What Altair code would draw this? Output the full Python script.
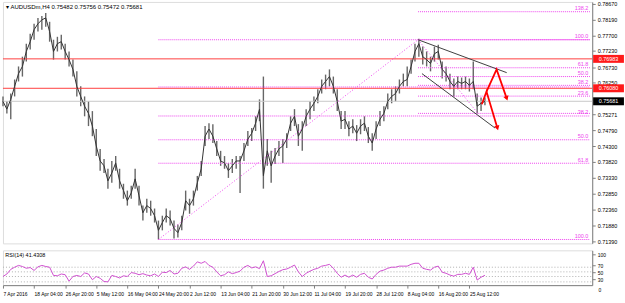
import altair as alt
import pandas as pd

# ---------------- data ----------------
# sampled H4 bars (every 5th bar index from the left edge)
bars = list(range(0, 625, 5))
close = [0.7568,0.7544,0.7574,0.7614,0.7653,0.7675,0.7721,0.7751,0.7788,0.7806,
 0.7818,0.7824,0.7782,0.7721,0.7745,0.7751,0.7721,0.7696,0.7666,0.7614,
 0.7583,0.7553,0.7531,0.7492,0.7431,0.7385,0.7370,0.7324,0.7348,0.7379,
 0.7324,0.7294,0.7263,0.7287,0.7330,0.7278,0.7226,0.7248,0.7239,0.7217,
 0.7172,0.7196,0.7217,0.7208,0.7178,0.7165,0.7196,0.7263,0.7248,0.7269,
 0.7318,0.7361,0.7461,0.7483,0.7461,0.7422,0.7385,0.7379,0.7355,0.7370,
 0.7385,0.7385,0.7416,0.7452,0.7470,0.7501,0.7544,0.7340,0.7416,0.7370,
 0.7400,0.7422,0.7431,0.7452,0.7501,0.7522,0.7461,0.7483,0.7522,0.7544,
 0.7562,0.7583,0.7614,0.7629,0.7644,0.7614,0.7568,0.7507,0.7513,0.7483,
 0.7492,0.7470,0.7492,0.7501,0.7461,0.7440,0.7483,0.7513,0.7531,0.7568,
 0.7583,0.7592,0.7614,0.7629,0.7635,0.7675,0.7721,0.7745,0.7705,0.7696,
 0.7684,0.7714,0.7721,0.7666,0.7653,0.7629,0.7614,0.7629,0.7623,0.7629,
 0.7617,0.7629,0.7553,0.7562,0.7568]
high = [0.7583,0.7568,0.7592,0.7635,0.7675,0.7705,0.7745,0.7775,0.7806,0.7824,
 0.7830,0.7839,0.7812,0.7757,0.7766,0.7772,0.7745,0.7721,0.7696,0.7660,
 0.7614,0.7583,0.7568,0.7538,0.7483,0.7422,0.7391,0.7361,0.7385,0.7400,
 0.7361,0.7315,0.7294,0.7309,0.7361,0.7309,0.7248,0.7269,0.7263,0.7239,
 0.7202,0.7217,0.7239,0.7233,0.7202,0.7190,0.7217,0.7294,0.7269,0.7294,
 0.7339,0.7385,0.7492,0.7501,0.7498,0.7446,0.7416,0.7400,0.7379,0.7391,
 0.7400,0.7400,0.7440,0.7477,0.7486,0.7522,0.7574,0.7644,0.7452,0.7416,
 0.7425,0.7446,0.7452,0.7470,0.7522,0.7544,0.7498,0.7507,0.7544,0.7568,
 0.7583,0.7605,0.7635,0.7650,0.7666,0.7644,0.7605,0.7538,0.7538,0.7507,
 0.7513,0.7495,0.7513,0.7522,0.7489,0.7470,0.7507,0.7538,0.7553,0.7592,
 0.7605,0.7614,0.7635,0.7653,0.7675,0.7696,0.7745,0.7760,0.7736,0.7721,
 0.7705,0.7736,0.7742,0.7690,0.7675,0.7653,0.7638,0.7644,0.7641,0.7644,
 0.7638,0.7690,0.7592,0.7580,0.7580]
low = [0.7553,0.7531,0.7513,0.7583,0.7629,0.7644,0.7690,0.7727,0.7757,0.7782,
 0.7788,0.7797,0.7751,0.7696,0.7721,0.7727,0.7696,0.7675,0.7644,0.7583,
 0.7553,0.7522,0.7492,0.7461,0.7400,0.7355,0.7348,0.7300,0.7318,0.7355,
 0.7300,0.7269,0.7248,0.7269,0.7300,0.7248,0.7202,0.7226,0.7217,0.7196,
 0.7144,0.7172,0.7196,0.7187,0.7147,0.7150,0.7172,0.7233,0.7223,0.7248,
 0.7294,0.7339,0.7431,0.7452,0.7440,0.7400,0.7370,0.7361,0.7333,0.7348,
 0.7361,0.7287,0.7385,0.7431,0.7446,0.7477,0.7507,0.7300,0.7370,0.7318,
 0.7376,0.7400,0.7379,0.7425,0.7477,0.7492,0.7431,0.7416,0.7492,0.7513,
 0.7538,0.7562,0.7592,0.7605,0.7614,0.7592,0.7538,0.7483,0.7483,0.7461,
 0.7470,0.7446,0.7467,0.7477,0.7440,0.7416,0.7452,0.7492,0.7507,0.7544,
 0.7562,0.7568,0.7592,0.7614,0.7614,0.7653,0.7690,0.7705,0.7681,0.7675,
 0.7660,0.7690,0.7696,0.7638,0.7629,0.7605,0.7583,0.7605,0.7605,0.7605,
 0.7598,0.7605,0.7531,0.7538,0.7556]
rsi = [38,45,58,64,69,66,61,63,55,65,
 69,66,64,41,40,45,43,25,38,41,
 38,48,45,29,38,33,24,23,41,38,
 34,40,38,49,47,43,46,42,40,45,
 38,50,49,55,45,47,61,65,58,67,
 79,75,80,69,64,51,40,43,51,46,
 49,53,64,69,62,65,60,82,38,40,
 46,52,57,59,64,70,51,38,47,53,
 58,61,67,69,72,61,47,36,42,36,
 42,36,44,47,36,31,44,53,56,61,
 64,64,67,67,67,72,75,75,61,58,
 56,64,67,50,47,42,39,44,44,47,
 44,64,28,36,41.43]

date_ticks = [0, 40, 80, 120, 160, 200, 240, 280, 320, 360, 400, 440, 480, 520, 560, 600]
date_labels = ["7 Apr 2016", "18 Apr 04:00", "26 Apr 20:00", "5 May 12:00", "16 May 04:00",
               "24 May 20:00", "2 Jun 12:00", "13 Jun 04:00", "21 Jun 20:00", "30 Jun 12:00",
               "11 Jul 04:00", "19 Jul 20:00", "28 Jul 12:00", "8 Aug 04:00", "16 Aug 20:00",
               "25 Aug 12:00"]
price_ticks = [0.7867, 0.7819, 0.7770, 0.7723, 0.7673, 0.7625, 0.75271, 0.7479, 0.7430,
               0.7382, 0.7333, 0.7285, 0.7236, 0.7188, 0.7139]

red_levels = [0.76983, 0.76080]
last_price = [0.75681]

# fib 1 (May low -> Aug high) and fib 2 (Aug high -> late Aug low)
fib1_prices = [0.7757, 0.7612, 0.7523, 0.7450, 0.7378, 0.7144]
fib1_start = 200
fib2_prices = [0.7531, 0.7584, 0.7617, 0.7644, 0.7671, 0.7757, 0.7843]
fib2_start = 534
fib_end = 755
# level captions visible at the right edge
fib_label_names = ["38.2", "50.0", "61.8", "100.0", "23.6", "38.2", "50.0", "61.8", "100.0", "138.2"]
fib_label_prices = [0.7523, 0.7450, 0.7378, 0.7144, 0.7584, 0.7617, 0.7644, 0.7671, 0.7757, 0.7843]

fib_diag_bar = [200, 534, 534, 611]
fib_diag_price = [0.7144, 0.7757, 0.7757, 0.7531]
fib_diag_id = ["a", "a", "b", "b"]

chan_bar = [534, 648, 539, 633]
chan_price = [0.7757, 0.7656, 0.7653, 0.7486]
chan_id = ["u", "u", "l", "l"]

arrow_bar = [616, 622, 636, 622, 635, 648]
arrow_price = [0.7559, 0.7598, 0.7486, 0.7598, 0.7666, 0.7577]
arrow_id = ["a", "a", "a", "b", "b", "b"]
head_bar = [636, 648]
head_price = [0.7486, 0.7577]
head_angle = [343, 341]

title_text = "\u25be AUDUSDm,H4  0.75482 0.75756 0.75472 0.75681"
rsi_text = "RSI(14) 41.4308"
rsi_levels = [64, 51, 38, 23]
rsi_ticks = [100, 70, 50, 30]

# ---------------- frames ----------------
price_df = pd.DataFrame({"bar": bars, "close": close, "high": high, "low": low})
rsi_df = pd.DataFrame({"bar": bars, "rsi": rsi})
fib_df = pd.DataFrame({
    "start": [fib1_start] * len(fib1_prices) + [fib2_start] * len(fib2_prices),
    "end": [fib_end] * (len(fib1_prices) + len(fib2_prices)),
    "price": fib1_prices + fib2_prices,
})
fib_lab_df = pd.DataFrame({"price": fib_label_prices, "name": fib_label_names})
red_df = pd.DataFrame({"price": red_levels, "s": [0, 0], "e": [758, 758],
                       "lab": ["%.5f" % v for v in red_levels]})
last_df = pd.DataFrame({"price": last_price, "s": [0], "e": [758],
                        "lab": ["%.5f" % v for v in last_price]})
diag_df = pd.DataFrame({"bar": fib_diag_bar, "price": fib_diag_price, "id": fib_diag_id})
chan_df = pd.DataFrame({"bar": chan_bar, "price": chan_price, "id": chan_id})
arrow_df = pd.DataFrame({"bar": arrow_bar, "price": arrow_price, "id": arrow_id,
                         "o": list(range(len(arrow_bar)))})
head_df = pd.DataFrame({"bar": head_bar, "price": head_price, "ang": head_angle})

FONT = "Liberation Sans"
xs = alt.Scale(domain=[0, 758], nice=False, zero=False)
ys = alt.Scale(domain=[0.7132, 0.7873], nice=False, zero=False)
rs = alt.Scale(domain=[13.9, 111.1], nice=False, zero=False)

yaxis = alt.Axis(orient="right", values=price_ticks, format=".5f", labelFontSize=5.5,
                 labelFont=FONT, tickSize=3, domainColor="#808080", tickColor="#808080",
                 labelColor="#000000", grid=False, title=None, labelPadding=2,
                 labelOverlap=False)

X = lambda f: alt.X(f, type="quantitative", scale=xs, axis=None)
Y = lambda f: alt.Y(f, type="quantitative", scale=ys, axis=yaxis)
XD = lambda v: alt.X(datum=v, type="quantitative", scale=xs, axis=None)
YD = lambda v: alt.Y(datum=v, type="quantitative", scale=ys, axis=yaxis)

candles = alt.Chart(price_df).mark_rule(color="#666666", strokeWidth=1.4).encode(
    x=X("bar"), y=Y("low"), y2="high:Q")
closes = alt.Chart(price_df).mark_line(color="#333333", strokeWidth=1).encode(
    x=X("bar"), y=Y("close"))

red_lines = alt.Chart(red_df).mark_rule(color="#ff4040", strokeWidth=1).encode(
    x=X("s"), x2="e", y=Y("price"))
last_line = alt.Chart(last_df).mark_rule(color="#c8c8c8", strokeWidth=1).encode(
    x=X("s"), x2="e", y=Y("price"))
fib_lines = alt.Chart(fib_df).mark_rule(color="#ee44ee", strokeWidth=1, strokeDash=[1, 1]).encode(
    x=X("start"), x2="end", y=Y("price"))
fib_text = alt.Chart(fib_lab_df).mark_text(color="#ee44ee", fontSize=5.5, font=FONT, align="right",
                                           baseline="bottom", dy=-0.5).encode(
    x=XD(753), y=Y("price"), text="name:N")
diag = alt.Chart(diag_df).mark_line(color="#ee44ee", strokeWidth=1, strokeDash=[1, 2]).encode(
    x=X("bar"), y=Y("price"), detail="id:N")
chan = alt.Chart(chan_df).mark_line(color="#404040", strokeWidth=1).encode(
    x=X("bar"), y=Y("price"), detail="id:N")
arrows = alt.Chart(arrow_df).mark_line(color="#ff0000", strokeWidth=1.8).encode(
    x=X("bar"), y=Y("price"), detail="id:N", order="o:Q")
heads = alt.Chart(head_df).mark_point(shape="triangle-down", filled=True, color="#ff0000",
                                      size=30, opacity=1).encode(
    x=X("bar"), y=Y("price"), angle=alt.Angle("ang:Q", scale=None))

red_box = alt.Chart(red_df).mark_tick(orient="horizontal", size=31, thickness=8, color="#ff1a1a",
                                      opacity=1, clip=False).encode(
    x=XD(779), y=Y("price"))
red_lab = alt.Chart(red_df).mark_text(color="white", fontSize=5.5, font=FONT, clip=False).encode(
    x=XD(779), y=Y("price"), text="lab:N")
last_box = alt.Chart(last_df).mark_tick(orient="horizontal", size=31, thickness=8, color="#000000",
                                        opacity=1, clip=False).encode(
    x=XD(779), y=Y("price"))
last_lab = alt.Chart(last_df).mark_text(color="white", fontSize=5.5, font=FONT, clip=False).encode(
    x=XD(779), y=Y("price"), text="lab:N")

title = alt.Chart(pd.DataFrame({"t": [title_text]})).mark_text(
    align="left", baseline="middle", fontSize=6, font=FONT, color="#000").encode(
    x=XD(4), y=YD(0.78575), text="t:N")

main = alt.layer(candles, last_line, red_lines, fib_lines, diag, closes, chan, arrows, heads,
                 fib_text, red_box, red_lab, last_box, last_lab, title).properties(
    width=593, height=243)

# ---------------- RSI panel ----------------
label_expr = " : ".join(["datum.value == %d ? '%s'" % (v, l) for v, l in zip(date_ticks, date_labels)]) + " : ''"
xaxis = alt.Axis(orient="bottom", values=date_ticks, labelExpr=label_expr, labelAlign="left",
                 labelFontSize=5, labelFont=FONT, tickSize=3, domainColor="#808080",
                 tickColor="#808080", labelColor="#000", grid=False, title=None, labelPadding=3,
                 labelOverlap=False, labelBound=False, labelFlush=False)
raxis = alt.Axis(orient="right", values=rsi_ticks, labelFontSize=5, labelFont=FONT,
                 tickSize=3, domainColor="#808080", tickColor="#808080", grid=False, title=None,
                 labelPadding=2, labelOverlap=False)

RX = lambda f: alt.X(f, type="quantitative", scale=xs, axis=xaxis)
RY = lambda f: alt.Y(f, type="quantitative", scale=rs, axis=raxis)
RXD = lambda v: alt.X(datum=v, type="quantitative", scale=xs, axis=xaxis)
RYD = lambda v: alt.Y(datum=v, type="quantitative", scale=rs, axis=raxis)

rsi_lvl_df = pd.DataFrame({"v": rsi_levels, "s": [0] * len(rsi_levels), "e": [758] * len(rsi_levels)})
rsi_lv = alt.Chart(rsi_lvl_df).mark_rule(color="#b0b0b0", strokeWidth=1, strokeDash=[1, 2]).encode(
    x=RX("s"), x2="e", y=RY("v"))
rsi_line = alt.Chart(rsi_df).mark_line(color="#d050d0", strokeWidth=1).encode(
    x=RX("bar"), y=RY("rsi"))
rsi_title = alt.Chart(pd.DataFrame({"t": [rsi_text]})).mark_text(
    align="left", baseline="middle", fontSize=5.5, font=FONT, color="#000").encode(
    x=RXD(3), y=RYD(99), text="t:N")
rsi_zero = alt.Chart(pd.DataFrame({"t": ["0"]})).mark_text(
    align="left", baseline="middle", fontSize=5, font=FONT, color="#000", clip=False).encode(
    x=RXD(766), y=RYD(0), text="t:N")

rsi_panel = alt.layer(rsi_lv, rsi_line, rsi_title, rsi_zero).properties(width=593, height=35)

chart = alt.vconcat(main, rsi_panel, spacing=4).properties(padding=0).configure_view(
    stroke="#909090", strokeWidth=1).configure_axis(labelOverlap=False).configure(background="white")

chart.save("out.html", embed_options={"renderer": "svg", "actions": False})
